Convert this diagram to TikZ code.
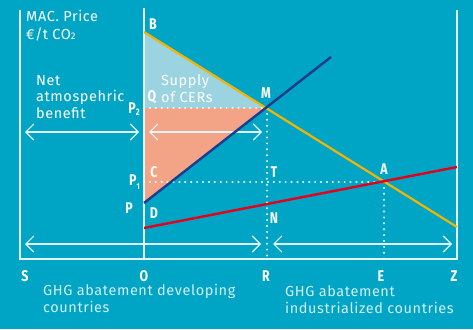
\documentclass[tikz,border=0pt]{standalone}
\usepackage{fontspec}
\setmainfont[LetterSpace=4]{Fira Sans}
\newfontfamily\lblfont[FakeStretch=0.8]{Fira Sans}
\usetikzlibrary{arrows.meta}
\definecolor{bg}{HTML}{00A5C5}
\definecolor{wl}{HTML}{E4F5F9}
\definecolor{txt}{HTML}{D2EFF5}
\definecolor{yel}{HTML}{F5B400}
\definecolor{dblue}{HTML}{1D3C8E}
\definecolor{myred}{HTML}{E2001A}
\definecolor{lblue}{HTML}{9CD3E0}
\definecolor{salmon}{HTML}{F3A386}
\tikzset{
  frame/.style={wl, line width=1.1pt},
  dots/.style={white, line width=2.2pt, line cap=round, dash pattern=on 0pt off 5.9pt},
  dblarrow/.style={wl, line width=1.1pt, {Straight Barb[length=8pt,width=16pt,line width=1.1pt]}-{Straight Barb[length=8pt,width=16pt,line width=1.1pt]}},
  lbl/.style={text=white, font=\lblfont\bfseries\fontsize{15.5}{15.5}\selectfont, inner sep=0pt},
  txtnode/.style={text=txt, font=\fontsize{14.5}{16.2}\selectfont, inner sep=0pt, align=left}
}
\begin{document}
\begin{tikzpicture}[x=1pt,y=-1pt]
\fill[bg] (0,0) rectangle (473,329);
\useasboundingbox (0,0) rectangle (473,329);
% key points
\coordinate (B) at (144,32);
\coordinate (Yend) at (457,227);
\coordinate (C0) at (144,203);
\coordinate (Bl1) at (331,57);
\coordinate (D0) at (144,228);
\coordinate (Rd1) at (457,167);
\coordinate (M) at (267,108);
\coordinate (Q) at (144,108);
\coordinate (A) at (384,182);
\coordinate (P1) at (144,182);
\coordinate (Rb) at (267,259);
\coordinate (Eb) at (384,259);
\coordinate (Sb) at (20,259);
\coordinate (St) at (20,10);
\coordinate (Ot) at (144,8);
\coordinate (Ob) at (144,259);
\coordinate (Zb) at (457,259);
\coordinate (Zt) at (457,10);
% fills
\fill[lblue] (B) -- (M) -- (Q) -- cycle;
\fill[salmon] (Q) -- (M) -- (C0) -- cycle;
% frame
\draw[frame] (St) -- (Sb) -- (Zb) -- (Zt);
\draw[frame] (Ot) -- (Ob);
% dotted guides
\draw[dots] (Q) -- (M);
\draw[dots] (M) -- (Rb);
\draw[dots] (P1) -- (A);
\draw[dots] (A) -- (Eb);
% arrows
\coordinate (a1) at (25,132); \coordinate (a2) at (139,132);
\coordinate (a3) at (149,132); \coordinate (a4) at (262,132);
\coordinate (b1) at (25,244); \coordinate (b2) at (261,244);
\coordinate (b3) at (273,244); \coordinate (b4) at (452,244);
\draw[dblarrow] (a1) -- (a2);
\draw[dblarrow] (a3) -- (a4);
\draw[dblarrow] (b1) -- (b2);
\draw[dblarrow] (b3) -- (b4);
% curves
\draw[yel, line width=2.2pt] (B) -- (Yend);
\draw[dblue, line width=2.4pt] (C0) -- (Bl1);
\draw[myred, line width=2.4pt] (D0) -- (Rd1);
% point labels
\node[lbl] (lB) at (153,24) {B};
\node[lbl] (lM) at (266,93) {M};
\node[lbl] (lQ) at (152,97) {Q};
\node[lbl, anchor=base east] (lP2) at (140,113) {P\raisebox{-2.5pt}{\fontsize{9.5}{9.5}\selectfont 2}};
\node[lbl] (lC) at (154,172) {C};
\node[lbl, anchor=base east] (lP1) at (140,185) {P\raisebox{-4pt}{\fontsize{8.5}{8.5}\selectfont 1}};
\node[lbl] (lP) at (129,208) {P};
\node[lbl] (lD) at (154,213) {D};
\node[lbl] (lT) at (274,172) {T};
\node[lbl] (lN) at (274,218) {N};
\node[lbl] (lA) at (384,169) {A};
\node[lbl] (lS) at (25,276) {S};
\node[lbl] (lO) at (144,276) {O};
\node[lbl] (lR) at (266,276) {R};
\node[lbl] (lE) at (381,276) {E};
\node[lbl] (lZ) at (454,276) {Z};
% texts (base = baseline of last line)
\node[txtnode, anchor=base west, text=white] (mac) at (26,22) {MAC. Price};
\node[txtnode, anchor=base west, text=white] (unit) at (26,40) {€/t CO{\fontsize{9.5}{9.5}\selectfont 2}};
\node[txtnode, anchor=base west, text=white] (net) at (36,118) {Net\\atmospehric\\benefit};
\node[txtnode, anchor=base west, text=white] (sup) at (161,102) {Supply\\of CERs};
\node[txtnode, anchor=base west] (dev) at (43,312) {GHG abatement developing\\countries};
\node[txtnode, anchor=base west] (ind) at (285,313) {GHG abatement\\industrialized countries};
\end{tikzpicture}
\end{document}
